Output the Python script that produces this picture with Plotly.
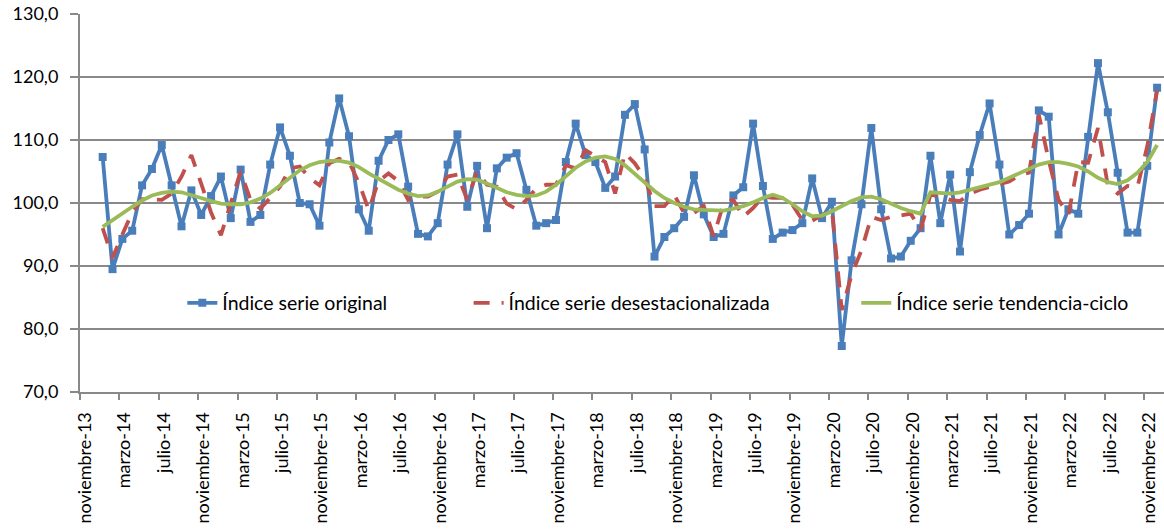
import plotly.graph_objects as go

# Tick labels (every 4 months, starting noviembre-13)
tick_labels = [
    "noviembre-13", "marzo-14", "julio-14", "noviembre-14", "marzo-15", "julio-15",
    "noviembre-15", "marzo-16", "julio-16", "noviembre-16", "marzo-17", "julio-17",
    "noviembre-17", "marzo-18", "julio-18", "noviembre-18", "marzo-19", "julio-19",
    "noviembre-19", "marzo-20", "julio-20", "noviembre-20", "marzo-21", "julio-21",
    "noviembre-21", "marzo-22", "julio-22", "noviembre-22",
]

# Monthly series, enero-14 .. diciembre-22
original = [
    107.3, 89.5, 94.3, 95.6, 102.8, 105.4, 109.2, 102.8, 96.3, 102.0, 98.1, 101.1,
    104.2, 97.6, 105.3, 97.0, 98.1, 106.1, 112.0, 107.5, 100.0, 99.8, 96.4, 109.6,
    116.6, 110.6, 99.0, 95.6, 106.7, 110.0, 110.9, 102.6, 95.1, 94.7, 96.8, 106.1,
    110.9, 99.4, 105.9, 96.0, 105.5, 107.2, 107.9, 102.1, 96.4, 96.8, 97.3, 106.5,
    112.6, 107.6, 106.5, 102.4, 104.2, 114.0, 115.7, 108.5, 91.5, 94.6, 96.0, 97.8,
    104.4, 98.2, 94.6, 95.1, 101.2, 102.5, 112.6, 102.7, 94.3, 95.3, 95.7, 96.8,
    103.9, 97.6, 100.2, 77.3, 90.9, 99.8, 111.9, 99.0, 91.2, 91.5, 94.0, 96.0,
    107.5, 96.8, 104.5, 92.3, 104.9, 110.8, 115.8, 106.1, 95.0, 96.5, 98.3, 114.7,
    113.7, 95.0, 99.0, 98.3, 110.5, 122.2, 114.4, 104.8, 95.3, 95.3, 105.9, 118.3,
]
desestacionalizada = [
    96.0, 91.3, 95.0, 98.5, 100.6, 100.5, 100.5, 101.5, 104.2, 107.6, 103.0, 98.5,
    94.9, 100.0, 105.0, 100.5, 99.1, 100.8, 102.6, 105.5, 105.8, 104.0, 102.8, 106.3,
    107.0, 106.5, 103.2, 98.9, 103.5, 104.7, 103.5, 100.5, 101.0, 101.0, 101.8, 104.2,
    104.5, 100.5, 105.0, 102.9, 102.6, 99.9, 99.0, 100.5, 102.3, 102.9, 102.9, 106.0,
    105.5, 108.4, 107.5, 106.5, 101.5, 107.9, 106.3, 104.0, 99.5, 99.5, 101.3, 98.4,
    98.4, 99.5, 94.7, 99.9, 100.5, 97.8, 99.2, 101.0, 100.8, 100.8, 99.7, 97.3,
    97.2, 98.0, 98.9, 83.0, 88.6, 92.5, 97.8, 97.3, 97.8, 98.0, 98.3, 95.7,
    101.3, 101.1, 100.5, 100.3, 101.5, 102.1, 102.6, 103.0, 103.4, 104.4, 104.8, 114.0,
    106.8, 100.5, 98.1, 106.5, 106.4, 111.9, 102.8, 101.5, 102.7, 102.5, 109.0, 117.9,
]
tendencia = [
    96.2, 97.3, 98.3, 99.4, 100.4, 101.2, 101.6, 101.8, 101.7, 101.3, 100.8, 100.3,
    99.9, 99.8, 99.8, 100.1, 100.7, 101.6, 102.8, 104.0, 105.2, 106.0, 106.5, 106.7,
    106.7, 106.4, 105.7, 104.7, 103.8, 102.9, 102.1, 101.5, 101.1, 101.2, 101.8, 102.6,
    103.4, 103.8, 103.7, 103.1, 102.4, 101.7, 101.3, 101.1, 101.2, 101.8, 102.9, 104.3,
    105.6, 106.6, 107.2, 107.4, 107.0, 106.0, 104.6, 103.2, 101.9, 100.8, 100.0, 99.4,
    99.0, 98.9, 98.8, 98.8, 99.1, 99.5, 100.1, 100.8, 101.3, 100.8, 99.8, 98.7,
    97.9, 98.0, 98.7, 99.5, 100.3, 100.9, 101.0, 100.6, 99.9, 99.2, 98.7, 98.3,
    101.7, 101.6, 101.5, 101.7, 102.1, 102.4, 102.8, 103.3, 104.0, 104.7, 105.4, 106.1,
    106.5, 106.5, 106.2, 105.8, 105.0, 104.0, 103.3, 103.0, 103.6, 104.8, 106.5, 109.2,
]

# month index: 0 = noviembre-13; series start at enero-14 (index 2)
START = 2
x = [START + k for k in range(len(original))]
TICK_SHIFT = -0.3
tickvals = [4 * k + TICK_SHIFT for k in range(len(tick_labels))]

FONT = "Lato"
FS_TICK = 18
FS_LEG = 19.5
GRID = "#898989"

fig = go.Figure()
fig.add_trace(go.Scatter(
    x=x, y=original, mode="lines+markers", name="Índice serie original",
    line=dict(color="#4A7EBB", width=3.8),
    marker=dict(symbol="square", size=8, color="#4A7EBB"),
    legend="legend", showlegend=True,
))
fig.add_trace(go.Scatter(
    x=x, y=desestacionalizada, mode="lines", name="Índice serie desestacionalizada",
    line=dict(color="#C0504D", width=3.8, dash="16px,12px"),
    legend="legend2", showlegend=True,
))
fig.add_trace(go.Scatter(
    x=x, y=tendencia, mode="lines", name="Índice serie tendencia-ciclo",
    line=dict(color="#9BBB59", width=3.8),
    legend="legend3", showlegend=True,
))

leg_common = dict(orientation="h", yanchor="middle", y=0.235, xanchor="left",
                  bgcolor="rgba(0,0,0,0)", font=dict(family=FONT, size=FS_LEG, color="#000000"))
fig.update_layout(
    width=1164, height=531,
    margin=dict(l=80, r=0, t=14, b=139, autoexpand=False),
    paper_bgcolor="white", plot_bgcolor="white",
    separators=", ",
    showlegend=True,
    font=dict(family=FONT, size=FS_TICK, color="#000000"),
    legend=dict(x=0.0944, **leg_common),
    legend2=dict(x=0.3585, **leg_common),
    legend3=dict(x=0.7161, **leg_common),
    xaxis=dict(
        range=[TICK_SHIFT, 109.7], tickmode="array", tickvals=tickvals, ticktext=tick_labels,
        tickangle=-90, showgrid=False, zeroline=False, automargin=False,
        showline=True, linecolor=GRID, linewidth=2,
        ticks="outside", ticklen=6, tickwidth=2, tickcolor=GRID,
        tickfont=dict(family=FONT, size=FS_TICK, color="#000000"),
        ticklabelstandoff=5, ticklabelshift=5, ticklabeloverflow="allow",
    ),
    yaxis=dict(
        range=[70, 130], tickmode="linear", tick0=70, dtick=10, tickformat=".1f",
        showgrid=True, gridcolor=GRID, gridwidth=2, zeroline=False, automargin=False,
        showline=True, linecolor=GRID, linewidth=2,
        ticks="outside", ticklen=8, tickwidth=2, tickcolor=GRID,
        tickfont=dict(family=FONT, size=FS_TICK, color="#000000"),
        ticklabelstandoff=8, ticklabeloverflow="allow",
    ),
)
# remove the default 8px page margin so the figure fills the window exactly
fig.write_html("out.html", config={"displayModeBar": False},
               post_script="document.body.style.margin='0';")
